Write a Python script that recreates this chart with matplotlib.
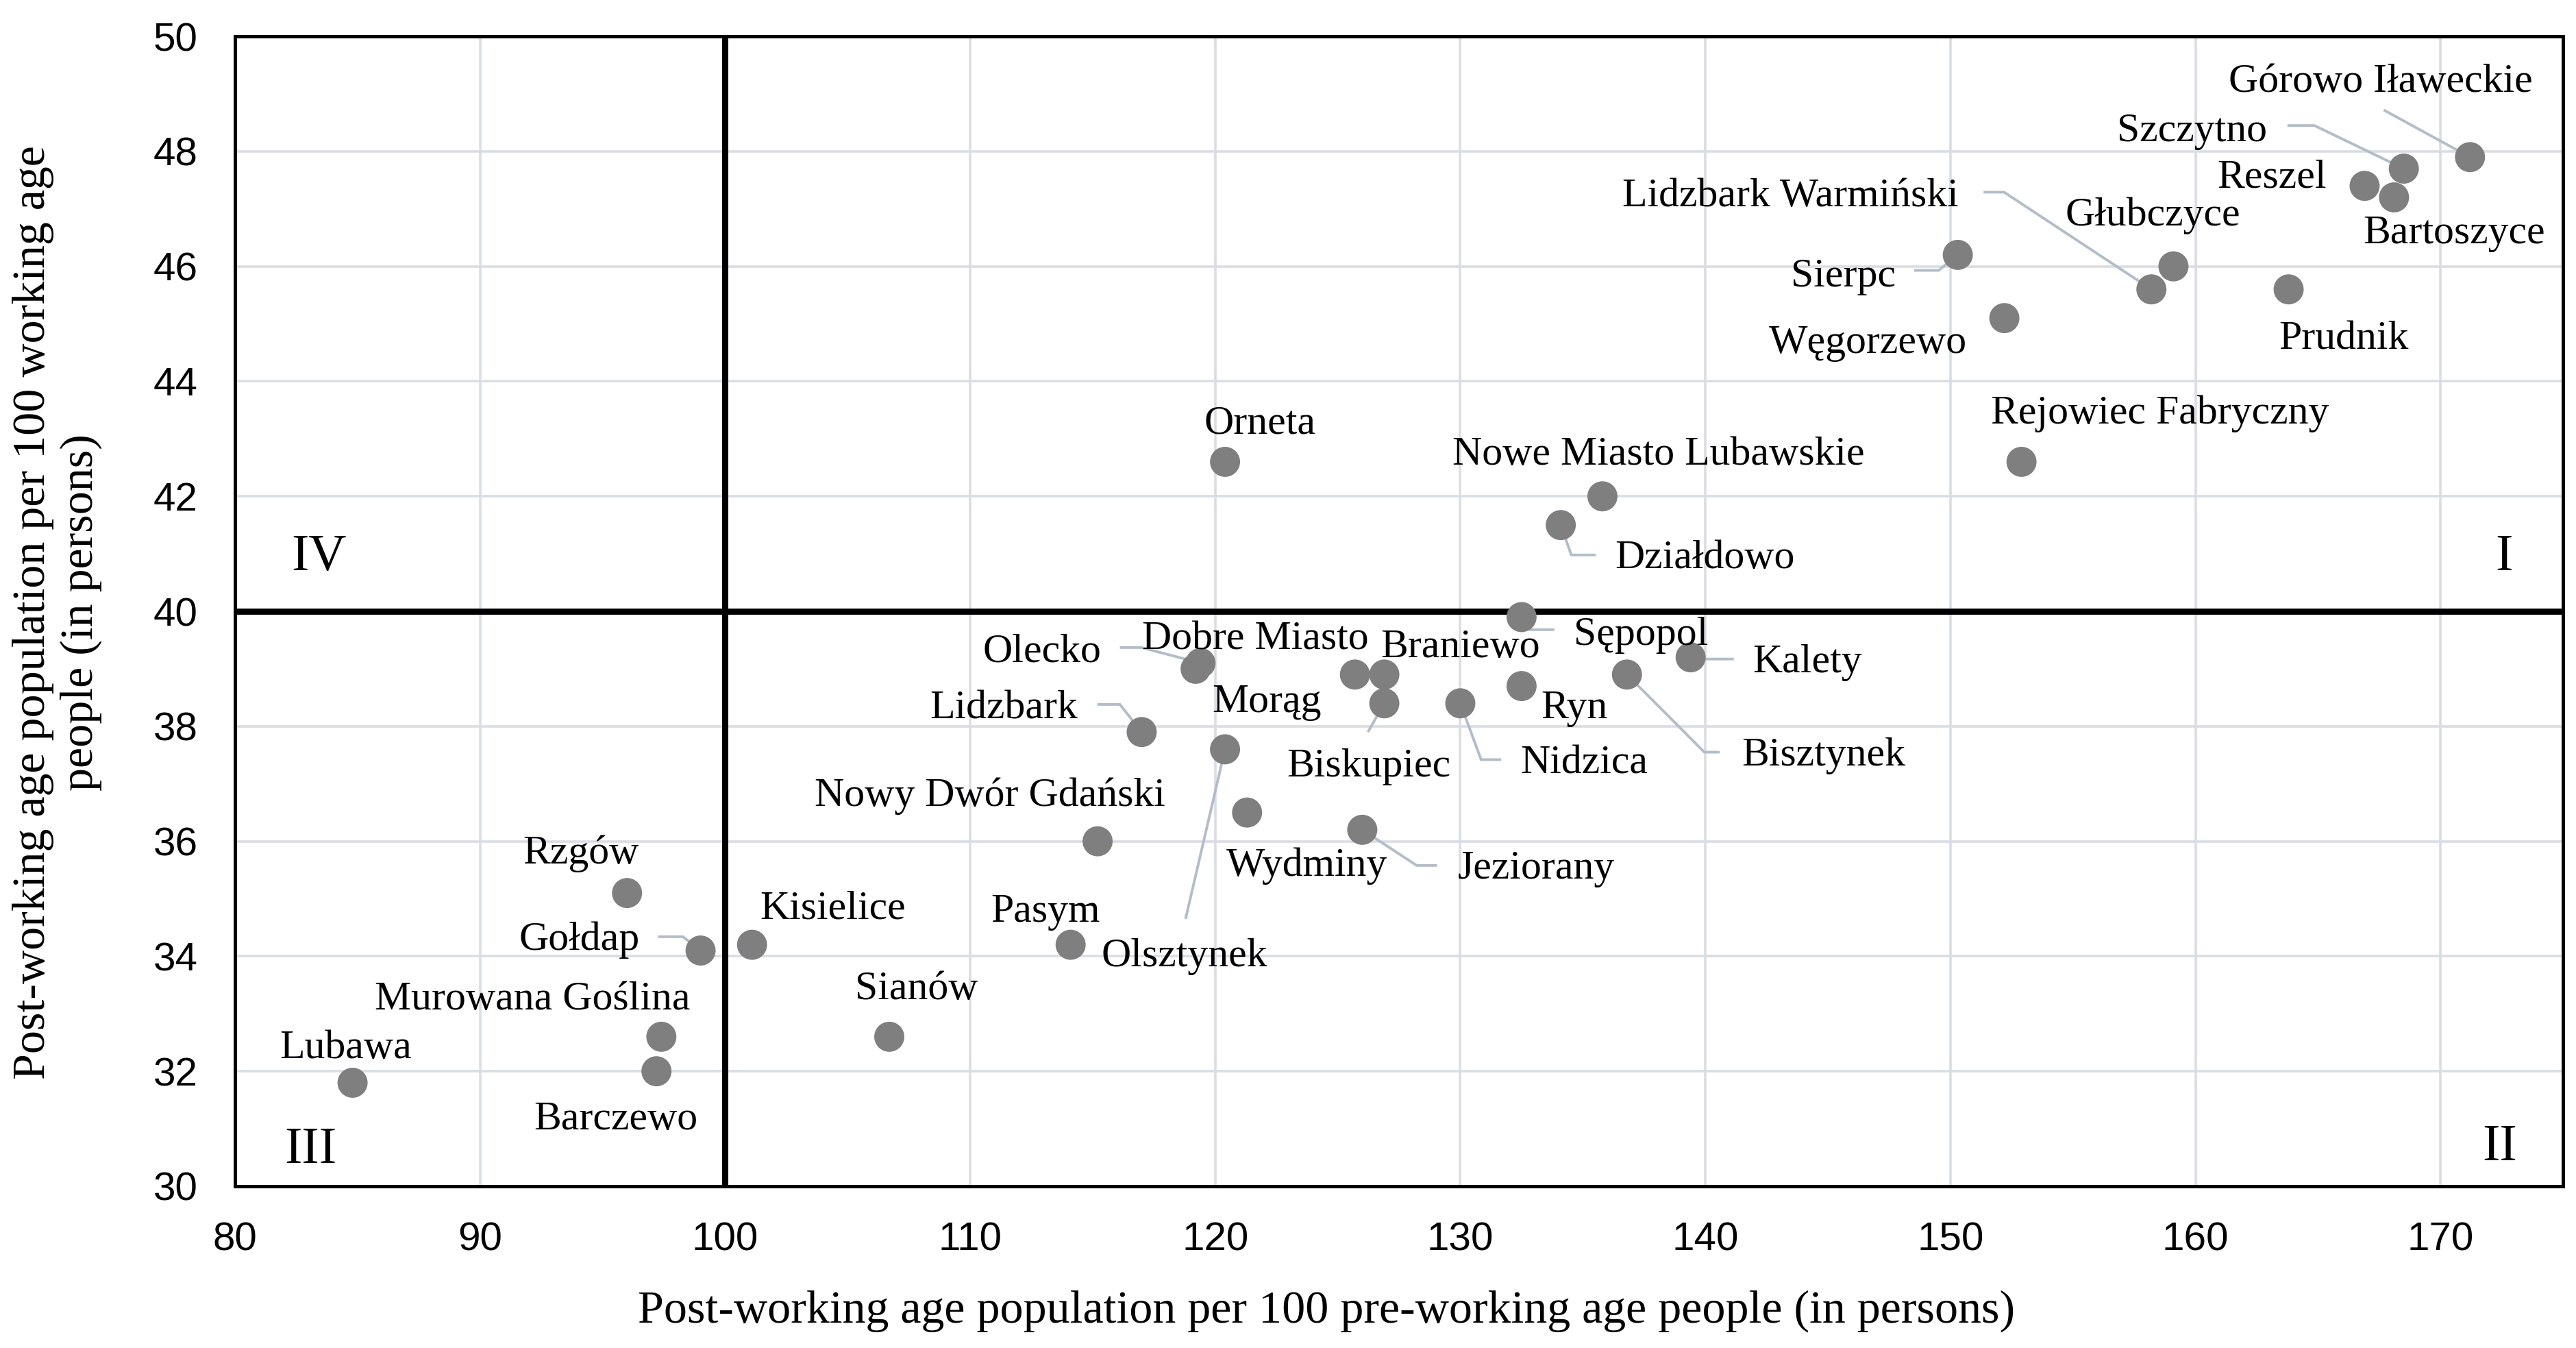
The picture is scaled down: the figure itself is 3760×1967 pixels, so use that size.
import matplotlib
matplotlib.use("Agg")
import matplotlib.pyplot as plt

# ─── data ─────────────────────────────────────────────────────────────────────
towns = [
    "Górowo Iławeckie", "Szczytno", "Reszel", "Bartoszyce", "Lidzbark Warmiński",
    "Głubczyce", "Sierpc", "Węgorzewo", "Prudnik", "Rejowiec Fabryczny",
    "Orneta", "Nowe Miasto Lubawskie", "Działdowo", "Sępopol", "Kalety",
    "Bisztynek", "Ryn", "Nidzica", "Braniewo", "Dobre Miasto", "Olecko",
    "Lidzbark", "Morąg", "Biskupiec", "Nowy Dwór Gdański", "Wydminy",
    "Jeziorany", "Pasym", "Olsztynek", "Kisielice", "Gołdap", "Rzgów",
    "Sianów", "Murowana Goślina", "Barczewo", "Lubawa",
]
post_per_pre = [
    171.2, 168.5, 166.9, 168.1, 158.2,
    159.1, 150.3, 152.2, 163.8, 152.9,
    120.4, 135.8, 134.1, 132.5, 139.4,
    136.8, 132.5, 130.0, 126.9, 119.2, 119.4,
    117.0, 125.7, 126.9, 115.2, 121.3,
    126.0, 114.1, 120.4, 101.1, 99.0, 96.0,
    106.7, 97.4, 97.2, 84.8,
]
post_per_working = [
    47.9, 47.7, 47.4, 47.2, 45.6,
    46.0, 46.2, 45.1, 45.6, 42.6,
    42.6, 42.0, 41.5, 39.9, 39.2,
    38.9, 38.7, 38.4, 38.9, 39.0, 39.1,
    37.9, 38.9, 38.4, 36.0, 36.5,
    36.2, 34.2, 37.6, 34.2, 34.1, 35.1,
    32.6, 32.6, 32.0, 31.8,
]
x_ticks = [80, 90, 100, 110, 120, 130, 140, 150, 160, 170]
y_ticks = [30, 32, 34, 36, 38, 40, 42, 44, 46, 48, 50]
quadrants = ["I", "II", "III", "IV"]

# ─── label placement (text centre x, baseline y; data units) ─────────────────
LABEL_POS = {
    "Górowo Iławeckie": (167.56, 49.03), "Szczytno": (159.85, 48.18),
    "Reszel": (163.12, 47.37), "Bartoszyce": (170.55, 46.40),
    "Lidzbark Warmiński": (143.46, 47.05), "Głubczyce": (158.25, 46.71),
    "Sierpc": (145.62, 45.65), "Węgorzewo": (146.62, 44.49),
    "Prudnik": (166.05, 44.56), "Rejowiec Fabryczny": (158.55, 43.27),
    "Orneta": (121.81, 43.09), "Nowe Miasto Lubawskie": (138.09, 42.55),
    "Działdowo": (139.99, 40.75), "Sępopol": (137.36, 39.42),
    "Kalety": (144.15, 38.94), "Bisztynek": (144.81, 37.32),
    "Ryn": (134.64, 38.14), "Nidzica": (135.04, 37.18),
    "Braniewo": (130.0, 39.20), "Dobre Miasto": (121.63, 39.34),
    "Olecko": (112.92, 39.12), "Lidzbark": (111.37, 38.14),
    "Morąg": (122.11, 38.25), "Biskupiec": (126.25, 37.13),
    "Nowy Dwór Gdański": (110.82, 36.62), "Wydminy": (123.75, 35.40),
    "Jeziorany": (133.09, 35.35), "Pasym": (113.07, 34.60),
    "Olsztynek": (118.74, 33.83), "Kisielice": (104.40, 34.66),
    "Gołdap": (94.06, 34.11), "Rzgów": (94.12, 35.61),
    "Sianów": (107.80, 33.25), "Murowana Goślina": (92.13, 33.08),
    "Barczewo": (95.53, 30.99), "Lubawa": (84.51, 32.23),
}

# leader lines: path from the label side to the elbow, then on to the point
LEADERS = {
    "Górowo Iławeckie": [(167.68, 48.72)],
    "Szczytno": [(163.75, 48.45), (164.85, 48.45)],
    "Lidzbark Warmiński": [(151.35, 47.29), (152.19, 47.29)],
    "Sierpc": [(148.52, 45.93), (149.52, 45.93)],
    "Działdowo": [(135.53, 40.98), (134.53, 40.98)],
    "Sępopol": [(133.84, 39.68), (132.84, 39.68)],
    "Kalety": [(141.16, 39.17), (139.96, 39.17)],
    "Bisztynek": [(140.58, 37.55), (139.96, 37.55)],
    "Nidzica": [(131.67, 37.42), (130.85, 37.42)],
    "Olecko": [(116.11, 39.37), (116.99, 39.37)],
    "Lidzbark": [(115.19, 38.38), (116.11, 38.38)],
    "Biskupiec": [(126.23, 37.90)],
    "Jeziorany": [(129.05, 35.58), (128.22, 35.58)],
    "Olsztynek": [(118.79, 34.65)],
    "Gołdap": [(97.26, 34.34), (98.28, 34.34)],
}

QUAD_POS = {"I": (172.58, 40.71), "II": (172.4, 30.45),
            "III": (83.1, 30.41), "IV": (83.44, 40.71)}

SERIF = ["Liberation Serif", "DejaVu Serif"]
SANS = ["Liberation Sans", "DejaVu Sans"]
LEADER_COLOR = "#b3bdc9"
GRID_COLOR = "#d9dde4"
MARKER_COLOR = "#7f7f7f"

# ─── plotting ─────────────────────────────────────────────────────────────────
fig = plt.figure(figsize=(37.6, 19.67), dpi=100)
ax = fig.add_axes([0.0912, 0.12, 0.9038, 0.853])

ax.set_xlim(80, 175)
ax.set_ylim(30, 50)
ax.set_xticks(x_ticks)
ax.set_yticks(y_ticks)
ax.grid(True, color=GRID_COLOR, linewidth=2.6, zorder=0)
ax.set_axisbelow(True)
ax.tick_params(length=0, labelsize=42)
ax.tick_params(axis="x", pad=37)
ax.tick_params(axis="y", pad=39)
for lab in ax.get_xticklabels() + ax.get_yticklabels():
    lab.set_family(SANS)
for sp in ax.spines.values():
    sp.set_linewidth(3.5)
    sp.set_color("black")

# quadrant dividers
ax.axvline(100, color="black", linewidth=6.5, zorder=2)
ax.axhline(40, color="black", linewidth=6.5, zorder=2)

# leaders
pts = dict(zip(towns, zip(post_per_pre, post_per_working)))
for name, path in LEADERS.items():
    full = path + [pts[name]]
    ax.plot([p[0] for p in full], [p[1] for p in full],
            color=LEADER_COLOR, linewidth=2.8, zorder=3,
            solid_capstyle="butt", solid_joinstyle="miter")

ax.scatter(post_per_pre, post_per_working, s=1000, color=MARKER_COLOR,
           edgecolors="none", zorder=4)

for name in towns:
    tx, ty = LABEL_POS[name]
    ax.text(tx, ty, name, ha="center", va="baseline", fontsize=43,
            family=SERIF, zorder=5)

for q in quadrants:
    qx, qy = QUAD_POS[q]
    ax.text(qx, qy, q, ha="center", va="baseline", fontsize=55,
            family=SERIF, zorder=5)

fig.text(0.515, 0.0188,
         "Post-working age population per 100 pre-working age people (in persons)",
         ha="center", va="baseline", fontsize=49, family=SERIF)
fig.text(0.0223, 0.5455,
         "Post-working age population per 100 working age\npeople (in persons)",
         ha="center", va="center", rotation=90, fontsize=49, family=SERIF,
         linespacing=1.18)

fig.savefig("out.png", dpi=100)
plt.close(fig)
